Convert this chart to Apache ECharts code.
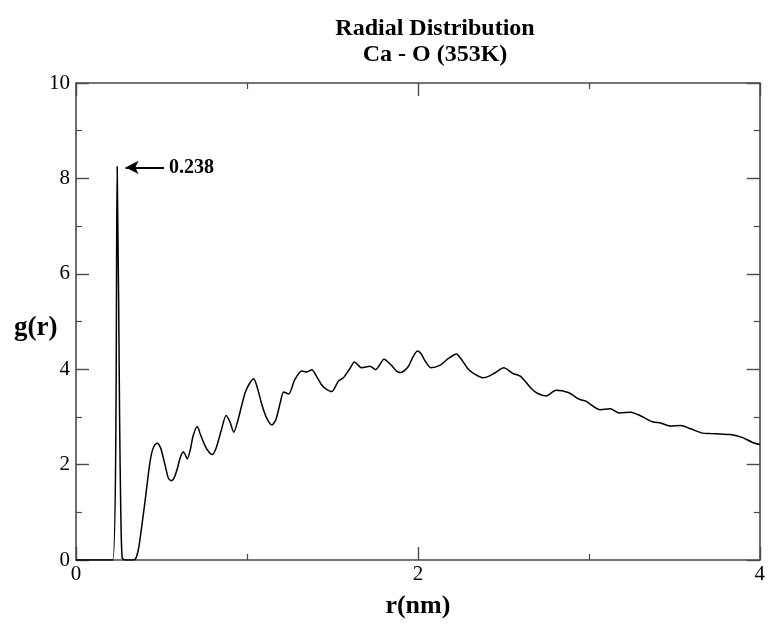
<!DOCTYPE html>
<html>
<head>
<meta charset="utf-8">
<script src="https://cdn.jsdelivr.net/npm/echarts@6/dist/echarts.min.js"></script>
<style>
  html, body { margin: 0; padding: 0; background: #fff; }
  #chart { width: 768px; height: 624px; }
</style>
</head>
<body>
<div id="chart"></div>
<script>
// r (nm) and g(r)
const rVals = [0.0, 0.215, 0.241, 0.255, 0.262, 0.270, 0.285, 0.34, 0.355, 0.369, 0.39, 0.408, 0.425, 0.44, 0.458,
  0.476, 0.495, 0.51, 0.525, 0.54, 0.558, 0.575, 0.593, 0.61, 0.628, 0.64, 0.651, 0.668, 0.685, 0.709,
  0.728, 0.748, 0.77, 0.797, 0.82, 0.85, 0.878, 0.9, 0.923, 0.945, 0.97, 0.991, 1.015, 1.04, 1.06,
  1.088, 1.115, 1.146, 1.17, 1.195, 1.215, 1.244, 1.28, 1.321, 1.351, 1.38, 1.409, 1.435, 1.458, 1.496,
  1.535, 1.564, 1.6, 1.629, 1.671, 1.72, 1.753, 1.802, 1.846, 1.875, 1.899, 1.943, 1.97, 1.998, 2.02,
  2.041, 2.076, 2.128, 2.177, 2.225, 2.26, 2.293, 2.33, 2.381, 2.42, 2.449, 2.503, 2.556, 2.601, 2.662,
  2.701, 2.75, 2.808, 2.88, 2.945, 2.983, 3.067, 3.125, 3.178, 3.246, 3.304, 3.372, 3.421, 3.475, 3.537,
  3.596, 3.664, 3.712, 3.77, 3.829, 3.897, 3.955, 4.0];
const gVals = [0, 0, 8.25, 3.0, 1.0, 0.05, 0, 0, 0.08, 0.3, 0.85, 1.35, 1.85, 2.2, 2.4,
  2.45, 2.35, 2.15, 1.93, 1.72, 1.66, 1.73, 1.92, 2.15, 2.27, 2.2, 2.12, 2.3, 2.6, 2.8,
  2.63, 2.45, 2.3, 2.21, 2.35, 2.72, 3.03, 2.9, 2.68, 2.9, 3.25, 3.52, 3.7, 3.8, 3.62,
  3.25, 2.98, 2.83, 2.95, 3.3, 3.52, 3.48, 3.78, 3.96, 3.94, 3.99, 3.84, 3.68, 3.6, 3.53,
  3.75, 3.82, 4.0, 4.15, 4.03, 4.06, 3.99, 4.21, 4.08, 3.96, 3.93, 4.05, 4.25, 4.38, 4.32,
  4.18, 4.03, 4.08, 4.22, 4.32, 4.18, 4.01, 3.9, 3.82, 3.86, 3.92, 4.03, 3.91, 3.85, 3.6,
  3.49, 3.44, 3.56, 3.51, 3.37, 3.33, 3.15, 3.17, 3.08, 3.1, 3.02, 2.9, 2.87, 2.81, 2.82,
  2.75, 2.66, 2.65, 2.64, 2.63, 2.57, 2.47, 2.42];

// arrow pointing at the first peak
const arrowFrom = [0.515, 8.23];
const arrowTo = [0.29, 8.23];
const peakLabel = '0.238';

const serif = '"Liberation Serif", "DejaVu Serif", serif';
const axisCol = '#4a4a4a';

const points = rVals.map((r, i) => [r, gVals[i]]);

const boxAxis = (extra) => Object.assign({
  type: 'value',
  axisLine: { show: true, onZero: false, lineStyle: { color: axisCol, width: 1.6 } },
  axisTick: { show: true, inside: true, length: 13, lineStyle: { color: axisCol, width: 1.4 } },
  minorTick: { show: true, splitNumber: 2, length: 6, lineStyle: { color: axisCol, width: 1.2 } },
  splitLine: { show: false },
  axisLabel: { show: false }
}, extra);

const chart = echarts.init(document.getElementById('chart'), null, { renderer: 'canvas' });
chart.setOption({
  animation: false,
  backgroundColor: '#fff',
  title: [
    {
      text: 'Radial Distribution\nCa - O (353K)',
      left: 430, top: 11, textAlign: 'center',
      textStyle: { fontFamily: serif, fontWeight: 'bold', fontSize: 24, lineHeight: 26, color: '#000' }
    },
    {
      text: 'g(r)',
      left: 9, top: 310,
      textStyle: { fontFamily: serif, fontWeight: 'bold', fontSize: 27, color: '#000' }
    }
  ],
  grid: { left: 76, right: 5, top: 83, bottom: 61 },
  xAxis: [
    boxAxis({
      min: 0, max: 4, interval: 2, position: 'bottom',
      axisLabel: { show: true, fontFamily: serif, fontSize: 21, color: '#000', margin: 4 },
      name: 'r(nm)', nameLocation: 'middle', nameGap: 33,
      nameTextStyle: { fontFamily: serif, fontWeight: 'bold', fontSize: 26, color: '#000' }
    }),
    boxAxis({ min: 0, max: 4, interval: 2, position: 'top' })
  ],
  yAxis: [
    boxAxis({
      min: 0, max: 10, interval: 2, position: 'left',
      axisLabel: { show: true, fontFamily: serif, fontSize: 21, color: '#000', margin: 6 }
    }),
    boxAxis({ min: 0, max: 10, interval: 2, position: 'right' })
  ],
  series: [{
    type: 'line',
    data: points,
    smooth: 0.25,
    showSymbol: false,
    lineStyle: { color: '#000', width: 1.5 },
    markLine: {
      silent: true,
      symbol: ['none', 'arrow'],
      symbolSize: [10, 13],
      lineStyle: { color: '#000', width: 2, type: 'solid' },
      label: { show: false },
      data: [[{ coord: arrowFrom }, { coord: arrowTo }]]
    },
    markPoint: {
      silent: true,
      symbol: 'circle', symbolSize: 0,
      label: {
        show: true, position: 'right', distance: 5, formatter: peakLabel,
        fontFamily: serif, fontWeight: 'bold', fontSize: 20, color: '#000'
      },
      data: [{ coord: arrowFrom }]
    }
  }]
});
</script>
</body>
</html>
